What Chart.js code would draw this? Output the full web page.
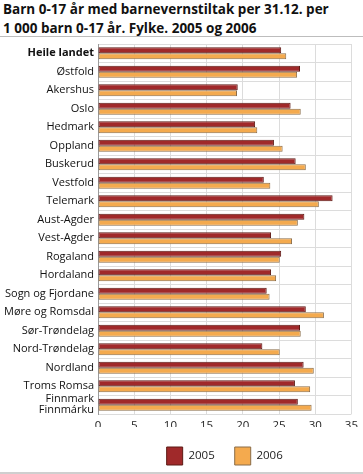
<!DOCTYPE html>
<html>
<head>
<meta charset="utf-8">
<script src="https://cdn.jsdelivr.net/npm/chart.js@4.4.0/dist/chart.umd.min.js"></script>
<style>
    html, body { margin: 0; padding: 0; background: #fff; }
    body { width: 363px; height: 474px; position: relative; overflow: hidden; font-family: "Open Sans", sans-serif; }
    #title { position: absolute; left: 3px; top: 0; font-size: 13.5px; font-weight: bold; line-height: 19px; color: #111; }
    #topLine { position: absolute; left: 0; top: 36px; width: 363px; height: 1px; background: #bdbdbd; }
    #bottomLine { position: absolute; left: 0; top: 472px; width: 363px; height: 2px; background: #cfcfcf; }
    #wrap { position: absolute; left: 0; top: 37px; width: 363px; height: 438px; }
</style>
</head>
<body>
<div id="title">Barn 0-17 år med barnevernstiltak per 31.12. per<br>1 000 barn 0-17 år. Fylke. 2005 og 2006</div>
<div id="topLine"></div>
<div id="wrap"><canvas id="chart"></canvas></div>
<div id="bottomLine"></div>
<script>
// Counties (fylke)
const counties = [
    'Heile landet', 'Østfold', 'Akershus', 'Oslo', 'Hedmark', 'Oppland', 'Buskerud',
    'Vestfold', 'Telemark', 'Aust-Agder', 'Vest-Agder', 'Rogaland', 'Hordaland',
    'Sogn og Fjordane', 'Møre og Romsdal', 'Sør-Trøndelag', 'Nord-Trøndelag',
    'Nordland', 'Troms Romsa', ['Finnmark', 'Finnmárku']
];

// Children with child welfare measures per 1 000 children 0-17
const values2005 = [25.3, 27.9, 19.3, 26.6, 21.7, 24.3, 27.3, 22.9, 32.4, 28.5, 23.9, 25.3, 23.9, 23.3, 28.7, 27.9, 22.7, 28.4, 27.2, 27.6];
const values2006 = [26.0, 27.5, 19.2, 28.0, 22.0, 25.5, 28.7, 23.8, 30.5, 27.6, 26.8, 25.1, 24.6, 23.7, 31.2, 28.0, 25.1, 29.8, 29.3, 29.5];

const xTicks = [0, 5, 10, 15, 20, 25, 30, 35];

const ctx = document.getElementById('chart').getContext('2d');
new Chart(ctx, {
    type: 'bar',
    data: {
        labels: counties,
        datasets: [{
            label: '2005',
            data: values2005,
            backgroundColor: '#a0292a',
            borderColor: '#5c1a14',
            borderWidth: 1,
            borderSkipped: false
        }, {
            label: '2006',
            data: values2006,
            backgroundColor: '#f4aa4e',
            borderColor: '#8a6c48',
            borderWidth: 1,
            borderSkipped: false
        }]
    },
    options: {
        indexAxis: 'y',
        responsive: true,
        maintainAspectRatio: false,
        animation: false,
        layout: { padding: { top: 7, right: 9, bottom: 0, left: 0 } },
        datasets: { bar: { categoryPercentage: 0.64, barPercentage: 1.0 } },
        scales: {
            x: {
                min: 0,
                max: 35,
                afterBuildTicks: s => { s.ticks = xTicks.map(v => ({ value: v })); },
                // let tick labels hang into the empty top of the legend box
                afterFit: s => { s.height = 13; },
                grid: { color: '#dcdcdc', drawTicks: false },
                border: { display: false },
                ticks: { color: '#222', padding: 5, font: { family: 'Open Sans', size: 11.5 } }
            },
            y: {
                afterFit: s => { s.width = 98; s.paddingTop = 0; s.paddingBottom = 0; },
                grid: { color: '#dcdcdc', drawTicks: false, offset: true },
                border: { color: '#9a9a9a' },
                ticks: {
                    color: '#111',
                    padding: 4,
                    autoSkip: false,
                    font: c => ({ family: 'Open Sans', size: 11, weight: c.index === 0 ? 'bold' : 'normal', lineHeight: 1.0 })
                }
            }
        },
        plugins: {
            legend: {
                position: 'bottom',
                fullSize: false,
                labels: {
                    color: '#222',
                    boxWidth: 16,
                    boxHeight: 18,
                    padding: 20,
                    font: { family: 'Open Sans', size: 11.5 }
                }
            },
            tooltip: { enabled: false }
        }
    }
});
</script>
</body>
</html>
